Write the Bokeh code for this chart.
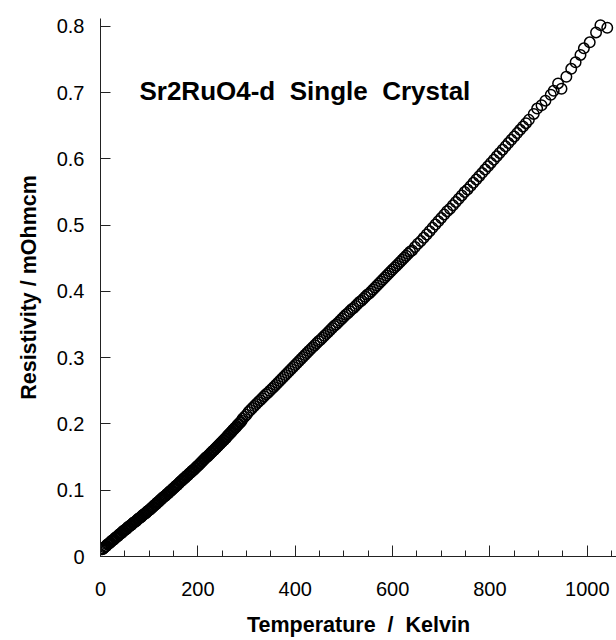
from bokeh.plotting import figure
from bokeh.models import SingleIntervalTicker, Range1d, Label
from bokeh.embed import file_html
from bokeh.resources import INLINE

# ---- data ----
temp_low = [4, 6, 8, 10, 12, 14, 16, 18, 20, 22, 24, 26, 28, 30, 32, 34, 36, 38, 40, 42,
            44, 46, 48, 50, 52, 54, 56, 58, 60, 62, 64, 66, 68, 70, 72, 74, 76, 78, 80, 82,
            84, 86, 88, 90, 92, 94, 96, 98, 100, 102, 104, 106, 108, 110, 112, 114, 116, 118, 120, 122,
            124, 126, 128, 130, 132, 134, 136, 138, 140, 142, 144, 146, 148, 150, 152, 154, 156, 158, 160, 162,
            164, 166, 168, 170, 172, 174, 176, 178, 180, 182, 184, 186, 188, 190, 192, 194, 196, 198, 200, 202,
            204, 206, 208, 210, 212, 214, 216, 218, 220, 222, 224, 226, 228, 230, 232, 234, 236, 238, 240, 242,
            244, 246, 248, 250, 252, 254, 256, 258, 260, 262, 264, 266, 268, 270, 272, 274, 276, 278, 280, 282,
            284, 286, 288, 290]
rho_low = [0.011, 0.012, 0.014, 0.015, 0.016, 0.018, 0.019, 0.020, 0.021, 0.023, 0.024, 0.025, 0.026, 0.028, 0.029, 0.030, 0.031, 0.033, 0.034, 0.035,
           0.036, 0.038, 0.039, 0.040, 0.041, 0.042, 0.044, 0.045, 0.046, 0.047, 0.048, 0.050, 0.051, 0.052, 0.053, 0.054, 0.056, 0.057, 0.058, 0.059,
           0.060, 0.062, 0.063, 0.064, 0.065, 0.066, 0.068, 0.069, 0.070, 0.071, 0.073, 0.074, 0.075, 0.077, 0.078, 0.079, 0.081, 0.082, 0.083, 0.085,
           0.086, 0.087, 0.089, 0.090, 0.091, 0.092, 0.094, 0.095, 0.096, 0.098, 0.099, 0.100, 0.102, 0.103, 0.104, 0.106, 0.107, 0.108, 0.110, 0.111,
           0.113, 0.114, 0.115, 0.117, 0.118, 0.119, 0.121, 0.122, 0.123, 0.125, 0.126, 0.127, 0.129, 0.130, 0.131, 0.133, 0.134, 0.136, 0.137, 0.138,
           0.140, 0.141, 0.143, 0.144, 0.146, 0.147, 0.149, 0.150, 0.151, 0.153, 0.154, 0.156, 0.157, 0.159, 0.160, 0.161, 0.163, 0.164, 0.166, 0.167,
           0.169, 0.170, 0.172, 0.173, 0.175, 0.176, 0.178, 0.179, 0.181, 0.183, 0.184, 0.186, 0.187, 0.189, 0.191, 0.192, 0.194, 0.195, 0.197, 0.199,
           0.200, 0.202, 0.203, 0.205]

temp_high = [292, 296, 300, 304, 308, 312, 316, 320, 324, 328, 332, 336, 340, 344, 348, 352, 356, 360, 364, 368,
             372, 376, 380, 384, 388, 392, 396, 400, 404, 408, 412, 416, 420, 424, 428, 432, 436, 440, 444, 448,
             452, 456, 460, 464, 468, 472, 476, 480, 484, 488, 492, 496, 500, 504, 508, 512, 516, 520, 524, 528,
             532, 536, 540, 544, 548, 552, 556, 560, 564, 568, 572, 576, 580, 584, 588, 592, 596, 600, 604, 608,
             612, 616, 620, 624, 628, 632, 636, 640,
             646, 652, 658, 664, 670, 676, 682, 688, 694, 700, 706, 712, 718, 724, 730, 736, 742, 748, 754, 760,
             766, 772, 778, 784, 790, 796, 802, 808, 814, 820, 826, 832, 838, 844, 850, 856, 862, 868, 874, 880,
             890, 897, 906, 914, 925, 931, 940, 947, 957, 967, 976, 986, 993, 1005, 1018, 1027, 1041]
rho_high = [0.208, 0.211, 0.214, 0.218, 0.221, 0.224, 0.227, 0.230, 0.233, 0.236, 0.239, 0.242, 0.245, 0.247, 0.250, 0.253, 0.256, 0.259, 0.262, 0.265,
            0.268, 0.271, 0.274, 0.277, 0.280, 0.283, 0.286, 0.289, 0.292, 0.295, 0.298, 0.301, 0.304, 0.307, 0.310, 0.313, 0.316, 0.319, 0.322, 0.325,
            0.327, 0.330, 0.333, 0.336, 0.339, 0.342, 0.345, 0.348, 0.350, 0.353, 0.356, 0.359, 0.362, 0.365, 0.367, 0.370, 0.373, 0.375, 0.378, 0.381,
            0.384, 0.386, 0.389, 0.392, 0.395, 0.397, 0.400, 0.403, 0.406, 0.409, 0.412, 0.415, 0.418, 0.421, 0.424, 0.427, 0.430, 0.433, 0.436, 0.439,
            0.442, 0.445, 0.448, 0.451, 0.454, 0.457, 0.460, 0.462,
            0.467, 0.472, 0.476, 0.481, 0.486, 0.491, 0.496, 0.501, 0.506, 0.511, 0.516, 0.521, 0.525, 0.530, 0.535, 0.540, 0.545, 0.550, 0.554, 0.559,
            0.564, 0.569, 0.574, 0.579, 0.584, 0.589, 0.594, 0.599, 0.604, 0.609, 0.614, 0.619, 0.624, 0.629, 0.634, 0.639, 0.644, 0.649, 0.654, 0.659,
            0.668, 0.676, 0.681, 0.688, 0.697, 0.703, 0.714, 0.706, 0.724, 0.736, 0.746, 0.757, 0.767, 0.776, 0.791, 0.802, 0.798]

title_text = "Sr2RuO4-d\u00a0 Single\u00a0 Crystal"
x_title = "Temperature\u00a0 /\u00a0 Kelvin"
y_title = "Resistivity / mOhmcm"

FONT = "Liberation Sans"

p = figure(width=616, height=640, output_backend="svg", toolbar_location=None,
           x_range=Range1d(0, 1060), y_range=Range1d(0, 0.812),
           min_border_left=100, min_border_right=0, min_border_top=18, min_border_bottom=84)
p.outline_line_color = None
p.xgrid.visible = False
p.ygrid.visible = False

for t, r in ((temp_low, rho_low), (temp_high, rho_high)):
    p.scatter(t, r, marker="circle", size=10.5, fill_color=None,
              line_color="black", line_width=1.5)

xa = p.xaxis[0]
xa.ticker = SingleIntervalTicker(interval=200, num_minor_ticks=4)
xa.major_tick_in = 11
xa.major_tick_out = 0
xa.minor_tick_in = 6
xa.minor_tick_out = 0
xa.axis_line_color = "#222222"
xa.major_tick_line_color = "#222222"
xa.minor_tick_line_color = "#222222"
xa.major_label_text_font = FONT
xa.major_label_text_font_size = "20px"
xa.major_label_text_color = "black"
xa.major_label_standoff = 25
xa.axis_label = x_title
xa.axis_label_text_font = FONT
xa.axis_label_text_font_style = "bold"
xa.axis_label_text_font_size = "21.5px"
xa.axis_label_text_color = "black"
xa.axis_label_standoff = 14

ya = p.yaxis[0]
ya.ticker = SingleIntervalTicker(interval=0.1, num_minor_ticks=0)
ya.major_tick_in = 10
ya.major_tick_out = 0
ya.minor_tick_line_color = None
ya.axis_line_color = "#222222"
ya.major_tick_line_color = "#222222"
ya.major_label_text_font = FONT
ya.major_label_text_font_size = "20px"
ya.major_label_text_color = "black"
ya.major_label_standoff = 16
ya.major_label_overrides = {0: "0"}
ya.axis_label = y_title
ya.axis_label_text_font = FONT
ya.axis_label_text_font_style = "bold"
ya.axis_label_text_font_size = "21.5px"
ya.axis_label_text_color = "black"
ya.axis_label_standoff = 13

p.add_layout(Label(x=80, y=0.703, text=title_text, text_font=FONT, text_font_style="bold",
                   text_font_size="26px", text_color="black", text_baseline="alphabetic"))

open("out.html", "w").write(file_html(p, INLINE))
